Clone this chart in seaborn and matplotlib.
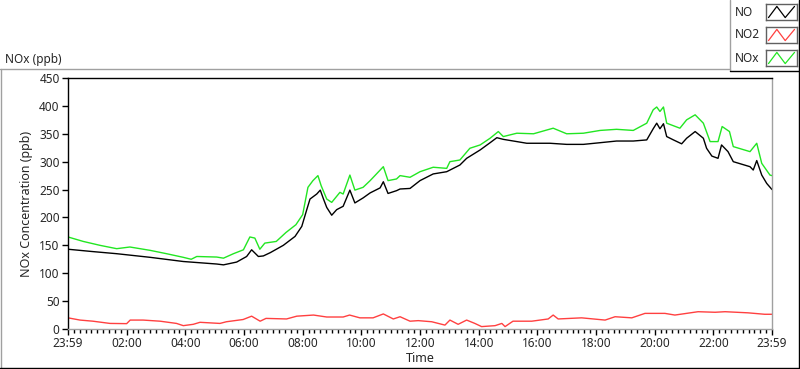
import matplotlib
matplotlib.use("Agg")
import matplotlib.pyplot as plt
from matplotlib.lines import Line2D
from matplotlib.ticker import MultipleLocator
import seaborn as sns
import pandas as pd

# hours since 23:59 and concentrations (ppb)
no_hours = [0, 0.8, 1.66, 2.8, 3.93, 5.07, 5.3, 5.75, 6.09, 6.26, 6.49, 6.66, 6.9,
            7.34, 7.74, 7.97, 8.14, 8.25, 8.48, 8.6, 8.71, 8.82, 8.99, 9.16, 9.38,
            9.61, 9.78, 10.06, 10.3, 10.64, 10.75, 10.91, 11.2, 11.32, 11.66, 12.0,
            12.45, 12.91, 13.36, 13.59, 14.05, 14.39, 14.62, 14.84, 15.3, 15.64,
            16.43, 17.0, 17.57, 18.14, 18.7, 19.27, 19.73, 19.95, 20.07, 20.18,
            20.3, 20.41, 20.64, 20.92, 21.09, 21.38, 21.66, 21.77, 21.95, 22.16,
            22.28, 22.5, 22.68, 23.25, 23.36, 23.48, 23.65, 23.82, 24]
no_vals = [143, 139, 135, 128.5, 121, 116.5, 115, 120, 130, 142, 130, 131, 137,
           150, 166, 184, 214, 233, 242, 249, 233, 218, 204, 214, 220,
           249, 226, 235, 244, 253, 264, 243, 248, 251, 252, 266,
           278, 282, 294, 306, 321, 334, 343, 340, 336, 333,
           333, 331, 331, 334, 337, 337, 339, 359, 369, 359,
           368, 345, 339, 332, 342, 354, 342, 324, 310, 306,
           330, 318, 300, 291, 285, 302, 276, 261, 250]

nox_hours = [0, 0.52, 1.09, 1.66, 2.11, 2.8, 3.36, 3.93, 4.2, 4.39, 5.07, 5.3, 5.64,
             5.98, 6.2, 6.37, 6.54, 6.71, 7.1, 7.43, 7.77, 8.0, 8.18, 8.35, 8.52,
             8.63, 8.82, 8.99, 9.27, 9.38, 9.61, 9.78, 10.06, 10.3, 10.75, 10.91,
             11.2, 11.32, 11.66, 12.0, 12.45, 12.91, 13.02, 13.36, 13.7, 14.05,
             14.39, 14.67, 14.84, 15.3, 15.87, 16.54, 17.0, 17.57, 18.14, 18.7,
             19.27, 19.73, 19.95, 20.07, 20.18, 20.3, 20.41, 20.86, 21.09, 21.38,
             21.66, 21.89, 22.16, 22.3, 22.55, 22.68, 23.25, 23.48, 23.65, 23.93, 24]
nox_vals = [165, 157, 150, 144, 147, 141, 135, 128.5, 125, 130, 129, 127, 135,
            142, 165, 163, 143, 154, 157, 173, 187, 205, 254, 266, 275,
            257, 233, 227, 245, 242, 276, 249, 254, 266, 291, 266,
            269, 275, 272, 282, 290, 288, 300, 303, 324, 330,
            342, 354, 345, 351, 350, 360, 350, 351, 356, 358,
            356, 369, 393, 398, 390, 398, 369, 360, 375, 384,
            369, 336, 336, 363, 354, 327, 318, 333, 297, 276, 275]

no2_hours = [0, 0.41, 0.85, 1.43, 2.0, 2.12, 2.56, 3.14, 3.7, 3.93, 4.27, 4.5, 5.18,
             5.4, 5.97, 6.26, 6.55, 6.75, 7.45, 7.8, 8.37, 8.82, 9.38, 9.6, 9.95,
             10.4, 10.75, 11.09, 11.32, 11.66, 11.94, 12.4, 12.85, 13.02, 13.3,
             13.59, 13.87, 14.1, 14.56, 14.79, 14.9, 15.17, 15.81, 16.37, 16.54,
             16.71, 17.51, 18.31, 18.65, 19.22, 19.67, 20.35, 20.69, 21.48, 22.06,
             22.4, 23.18, 23.75, 24]
no2_vals = [20, 16, 14, 10, 9.6, 16, 16, 14, 10, 6, 8.4, 12, 10,
            13, 17, 23, 14, 19, 18, 23, 25, 21.5, 21.5, 25, 20,
            20, 27, 18, 22, 14, 15, 13, 7, 16, 8.4,
            16, 10, 4.3, 6, 10, 4.3, 14, 14, 18, 25,
            18, 20, 16, 22, 20, 28, 28, 25, 31, 30,
            31, 29, 26.4, 26.4]

tick_hours = list(range(0, 25, 2))
tick_labels = ["23:59", "02:00", "04:00", "06:00", "08:00", "10:00", "12:00",
               "14:00", "16:00", "18:00", "20:00", "22:00", "23:59"]

series = {
    "NO": (no_hours, no_vals, "black"),
    "NO2": (no2_hours, no2_vals, "#ff4040"),
    "NOx": (nox_hours, nox_vals, "#22e622"),
}

sns.set_style("white")
plt.rcParams["font.family"] = ["Noto Sans", "DejaVu Sans"]

fig = plt.figure(figsize=(8, 3.69), dpi=100)
ax = fig.add_axes([68 / 800, 1 - 329 / 369, 704 / 800, 251 / 369])

for name, (hrs, vals, col) in series.items():
    df = pd.DataFrame({"Time": hrs, "ppb": vals})
    sns.lineplot(data=df, x="Time", y="ppb", ax=ax, color=col, lw=1.0,
                 estimator=None, sort=False)

ax.set_xlim(0, 24)
ax.set_ylim(0, 450)
ax.set_xticks(tick_hours)
ax.set_xticklabels(tick_labels)
ax.xaxis.set_minor_locator(MultipleLocator(0.2))
ax.yaxis.set_major_locator(MultipleLocator(50))
ax.tick_params(axis="both", which="major", labelsize=8.5, direction="out",
               length=4, width=1, color="black", pad=2, bottom=True, left=True)
ax.tick_params(axis="x", which="minor", length=3, width=1, color="black", bottom=True)
ax.set_xlabel("Time", fontsize=9, labelpad=1)
ax.set_ylabel("NOx Concentration (ppb)", fontsize=9, labelpad=4)
for s in ["left", "top"]:
    ax.spines[s].set_color("black")
    ax.spines[s].set_linewidth(1)
for s in ["right", "bottom"]:
    ax.spines[s].set_color("#a0a0a0")
    ax.spines[s].set_linewidth(1)

# panel frame and title
fig.add_artist(Line2D([0, 730 / 800], [1 - 69 / 369] * 2, color="#a0a0a0", lw=1))
fig.add_artist(Line2D([0.5 / 800] * 2, [0, 1 - 69 / 369], color="#a0a0a0", lw=1))
fig.add_artist(Line2D([0, 1], [1.5 / 369] * 2, color="black", lw=1))
fig.add_artist(Line2D([798.5 / 800] * 2, [0, 1], color="black", lw=1))
fig.text(5 / 800, 1 - 60 / 369, "NOx (ppb)", fontsize=8.5, va="center", ha="left")

# legend box
fig.add_artist(Line2D([730 / 800] * 2, [1 - 71 / 369, 1], color="#a0a0a0", lw=1))
fig.add_artist(Line2D([730 / 800, 1], [1 - 71 / 369] * 2, color="black", lw=1))
for i, (name, (hrs, vals, col)) in enumerate(series.items()):
    yc = 12 + i * 23
    fig.text(735 / 800, 1 - yc / 369, name, fontsize=8.5, va="center", ha="left")
    sw = fig.add_axes([766 / 800, 1 - (yc + 8) / 369, 31 / 800, 16 / 369])
    sw.plot([0.08, 0.35, 0.62, 0.92], [0.15, 0.85, 0.15, 0.85], color=col, lw=0.9)
    sw.set_xlim(0, 1)
    sw.set_ylim(0, 1)
    sw.set_xticks([])
    sw.set_yticks([])
    for s in sw.spines.values():
        s.set_color("#606060")
        s.set_linewidth(1)

fig.savefig("out.png", dpi=100)
